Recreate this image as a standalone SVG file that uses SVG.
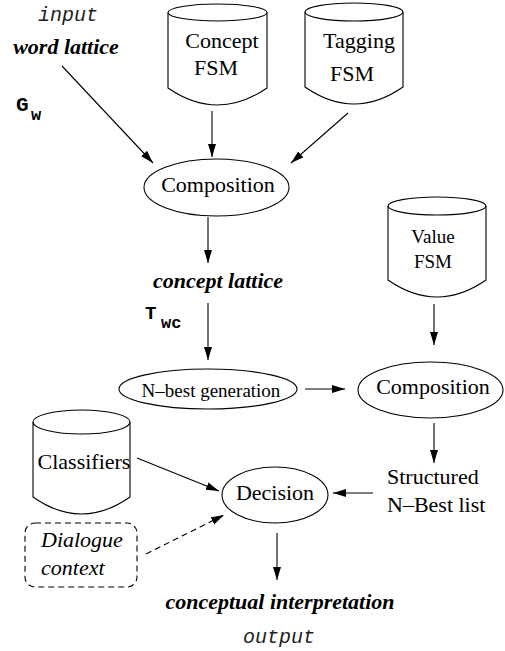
<svg xmlns="http://www.w3.org/2000/svg" width="505" height="651" viewBox="0 0 505 651">
<style>
.bg{fill:#fff}
.shape{fill:#fff;stroke:#000;stroke-width:1.1}
.line{fill:none;stroke:#000;stroke-width:1.1}
.dash{stroke-dasharray:6,4}
.t{font-family:"Liberation Serif","Times New Roman",serif;font-size:22px;fill:#000}
.small{font-size:19px}
.bi{font-weight:bold;font-style:italic}
.it{font-style:italic}
.mono{font-family:"Liberation Mono","Courier New",monospace;fill:#000}
.mi{font-style:italic;font-size:20px;fill:#222}
.mb{font-weight:bold}
</style>
<defs>
<marker id="ah" markerUnits="userSpaceOnUse" markerWidth="14" markerHeight="10" refX="13" refY="4" orient="auto">
<path d="M0,0 L13,4 L0,8 z" fill="#000"/>
</marker>
</defs>
<rect class="bg" x="0" y="0" width="505" height="651"/>

<g id="connectors">
<line class="line" x1="62" y1="66" x2="153" y2="163" marker-end="url(#ah)"/>
<line class="line" x1="212" y1="111" x2="212" y2="157" marker-end="url(#ah)"/>
<line class="line" x1="348" y1="113" x2="291" y2="163" marker-end="url(#ah)"/>
<line class="line" x1="208" y1="217" x2="208" y2="263" marker-end="url(#ah)"/>
<line class="line" x1="208" y1="303" x2="208" y2="360" marker-end="url(#ah)"/>
<line class="line" x1="305" y1="389" x2="345" y2="389" marker-end="url(#ah)"/>
<line class="line" x1="434" y1="304" x2="434" y2="345" marker-end="url(#ah)"/>
<line class="line" x1="434" y1="423" x2="434" y2="463" marker-end="url(#ah)"/>
<line class="line" x1="373" y1="493" x2="333" y2="493" marker-end="url(#ah)"/>
<line class="line" x1="137" y1="458" x2="219" y2="491" marker-end="url(#ah)"/>
<line class="line dash" x1="146" y1="554" x2="224" y2="515" marker-end="url(#ah)"/>
<line class="line" x1="277" y1="533" x2="277" y2="580" marker-end="url(#ah)"/>
</g>

<g id="input-label">
<text class="mono mi" x="68" y="21" text-anchor="middle">input</text>
<text class="t bi" x="66" y="54" text-anchor="middle">word lattice</text>
</g>

<g id="Gw">
<text class="mono mb" x="16" y="111" font-size="21">G</text>
<text class="mono mb" x="31" y="120" font-size="17">w</text>
</g>

<g id="concept-fsm">
<path class="shape" d="M168,12.5 L168,88 Q217.5,122 267,88 L267,12.5"/>
<ellipse class="shape" cx="217.5" cy="12.5" rx="49.5" ry="8.5"/>
<text class="t" x="222" y="48" text-anchor="middle">Concept</text>
<text class="t" x="216" y="75" text-anchor="middle">FSM</text>
</g>

<g id="tagging-fsm">
<path class="shape" d="M305,12 L305,87 Q354,121 403,87 L403,12"/>
<ellipse class="shape" cx="354" cy="12" rx="49" ry="9"/>
<text class="t" x="359" y="48" text-anchor="middle">Tagging</text>
<text class="t" x="352" y="81" text-anchor="middle">FSM</text>
</g>

<g id="composition1">
<ellipse class="shape" cx="216.5" cy="187.5" rx="72.5" ry="28.5"/>
<text class="t" x="218" y="192" text-anchor="middle">Composition</text>
</g>

<g id="concept-lattice">
<text class="t bi" x="218" y="288" text-anchor="middle">concept lattice</text>
</g>

<g id="Twc">
<text class="mono mb" x="145" y="319" font-size="19">T</text>
<text class="mono mb" x="161" y="328" font-size="17">wc</text>
</g>

<g id="value-fsm">
<path class="shape" d="M388,206 L388,280 Q437,314 486,280 L486,206"/>
<ellipse class="shape" cx="437" cy="206" rx="49" ry="9"/>
<text class="t small" x="433" y="243" text-anchor="middle">Value</text>
<text class="t small" x="433" y="268" text-anchor="middle">FSM</text>
</g>

<g id="nbest">
<ellipse class="shape" cx="208" cy="389" rx="89" ry="20"/>
<text class="t small" x="211" y="397" text-anchor="middle">N–best generation</text>
</g>

<g id="composition2">
<ellipse class="shape" cx="430.5" cy="390" rx="72.5" ry="28"/>
<text class="t" x="433" y="394" text-anchor="middle">Composition</text>
</g>

<g id="structured">
<text class="t" x="387" y="484">Structured</text>
<text class="t" x="387" y="512">N–Best list</text>
</g>

<g id="classifiers">
<path class="shape" d="M33,422 L33,497 Q81.5,531 130,497 L130,422"/>
<ellipse class="shape" cx="81.5" cy="422" rx="48.5" ry="12"/>
<text class="t" x="84" y="469" text-anchor="middle">Classifiers</text>
</g>

<g id="decision">
<ellipse class="shape" cx="275" cy="495" rx="53" ry="28"/>
<text class="t" x="275" y="500" text-anchor="middle">Decision</text>
</g>

<g id="dialogue">
<rect class="shape dash" x="25" y="523" width="112" height="64" rx="10"/>
<text class="t it" x="41" y="547">Dialogue</text>
<text class="t it" x="41" y="575">context</text>
</g>

<g id="output">
<text class="t bi" x="280" y="609" text-anchor="middle">conceptual interpretation</text>
<text class="mono mi" x="279" y="643" text-anchor="middle">output</text>
</g>
</svg>
